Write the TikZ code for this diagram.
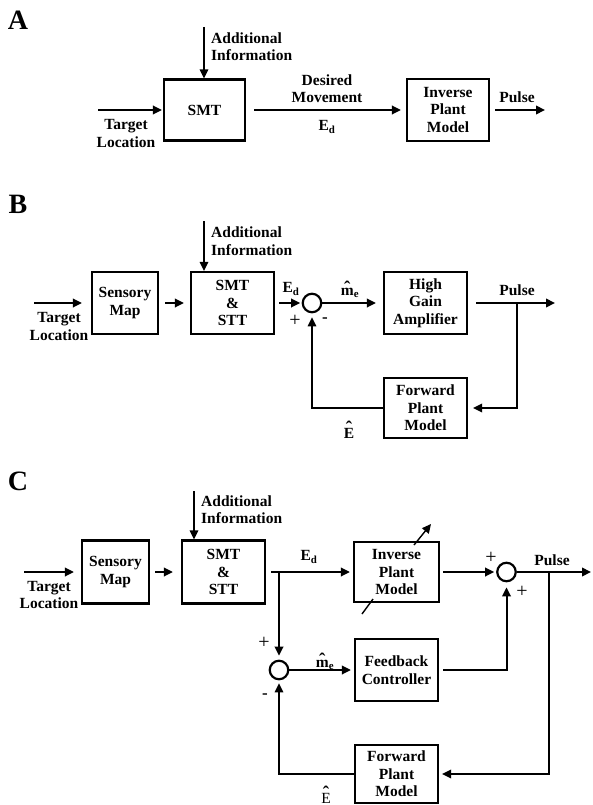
\documentclass[tikz,border=0pt]{standalone}
\usepackage{fontspec}
\setmainfont{Liberation Serif}
\usetikzlibrary{arrows.meta}
\newcommand{\txtfont}{\bfseries\fontsize{15.5}{17.5}\selectfont}
\newcommand{\hatchar}{\symbol{"02C6}}
\newcommand{\hatover}[1]{\vbox{\offinterlineskip\halign{\hfil##\hfil\cr{\bfseries\fontsize{19}{19}\selectfont\hatchar}\cr\noalign{\kern-6.5pt}#1\cr}}}
\tikzset{
  blk/.style={draw, line width=2.2pt, align=center, inner sep=0pt, font=\txtfont},
  lbl/.style={align=center, inner sep=0pt, font=\txtfont},
  panel/.style={inner sep=0pt, font=\bfseries\fontsize{28}{30}\selectfont},
  sumc/.style={circle, draw, line width=2.2pt, minimum size=18.5pt, inner sep=0pt},
  arr/.style={-{Triangle[length=9pt,width=8.5pt]}, line width=2pt},
  tarr/.style={-{Triangle[length=9pt,width=8.5pt]}, line width=1.4pt},
  plus/.style={inner sep=0pt, font=\fontsize{20}{20}\selectfont},
  minus/.style={inner sep=0pt, font=\bfseries\fontsize{17}{17}\selectfont},
  hatlbl/.style={inner sep=0pt, anchor=base, font=\txtfont}
}
\begin{document}
\begin{tikzpicture}[x=1pt,y=-1pt]
\useasboundingbox (0,0) rectangle (592,805);
% ---------------- Panel A ----------------
\node[panel] (pA) at (18,20) {A};
\node[blk, minimum width=81pt, minimum height=61pt] (smtA) at (204.5,110) {SMT};
\node[blk, minimum width=82pt, minimum height=62pt] (ipmA) at (448,110) {Inverse\\Plant\\Model};
\coordinate (addA) at (204,27);
\draw[tarr] (addA) -- (addA |- smtA.north);
\node[lbl, anchor=west, align=left] (addAt) at (211,46.5) {Additional\\Information};
\coordinate (tgtA) at (98,110);
\draw[arr, shorten >=1pt] (tgtA) -- (smtA.west);
\node[lbl] (tlA) at (126,133.5) {Target\\Location};
\draw[arr, shorten <=8pt, shorten >=5pt] (smtA.east) -- (ipmA.west);
\node[lbl] (dmA) at (327,88.5) {Desired\\Movement};
\node[lbl] (edA) at (327,127) {E\textsubscript{d}};
\coordinate (outA) at (545,110);
\draw[arr, shorten <=5pt] (ipmA.east) -- (outA);
\node[lbl] (puA) at (517,97) {Pulse};
% ---------------- Panel B ----------------
\node[panel] (pB) at (18,204) {B};
\node[blk, minimum width=66pt, minimum height=62pt] (smB) at (125,303) {Sensory\\Map};
\node[blk, minimum width=83pt, minimum height=62pt] (sstB) at (232.5,303) {SMT\\\&\\STT};
\node[sumc] (s1B) at (312,303) {};
\node[blk, minimum width=83pt, minimum height=62pt] (hgaB) at (425.5,303) {High\\Gain\\Amplifier};
\node[blk, minimum width=83pt, minimum height=60pt] (fpmB) at (425.5,408) {Forward\\Plant\\Model};
\coordinate (addB) at (204,221);
\draw[tarr] (addB) -- (addB |- sstB.north);
\node[lbl, anchor=west, align=left] (addBt) at (211,241) {Additional\\Information};
\coordinate (tgtB) at (34,303);
\draw[arr, shorten >=9pt] (tgtB) -- (smB.west);
\node[lbl] (tlB) at (59,326.5) {Target\\Location};
\draw[arr, shorten <=6pt, shorten >=6pt] (smB.east) -- (sstB.west);
\draw[arr, shorten <=4pt, shorten >=1.5pt] (sstB.east) -- (s1B.west);
\node[lbl] (edB) at (291,289) {E\textsubscript{d}};
\node[plus] (pl1B) at (295,321) {+};
\node[minus] (mi1B) at (325,320) {-};
\draw[arr, shorten >=7pt] (s1B.east) -- (hgaB.west);
\node[hatlbl] (meB) at (350,295) {\hatover{m}\textsubscript{e}};
\coordinate (outB) at (555,303);
\draw[arr, shorten <=8pt] (hgaB.east) -- (outB);
\node[lbl] (puB) at (517,290) {Pulse};
\coordinate (brB) at (517,303);
\draw[arr, line width=1.8pt, shorten >=5pt] (brB) |- (fpmB.east);
\draw[tarr, shorten >=4pt] (fpmB.west) -| (s1B.south);
\node[hatlbl] (EB) at (349,438) {\hatover{E}};
% ---------------- Panel C ----------------
\node[panel] (pC) at (18,481) {C};
\node[blk, minimum width=67pt, minimum height=63pt] (smC) at (115.5,572) {Sensory\\Map};
\node[blk, minimum width=83pt, minimum height=63pt] (sstC) at (223.5,572) {SMT\\\&\\STT};
\node[blk, minimum width=85pt, minimum height=60pt] (ipmC) at (396.5,572) {Inverse\\Plant\\Model};
\node[sumc] (s2C) at (506.5,572) {};
\node[blk, minimum width=83pt, minimum height=62pt] (fbcC) at (396.5,670) {Feedback\\Controller};
\node[sumc] (s3C) at (279,670) {};
\node[blk, minimum width=83pt, minimum height=58pt] (fpmC) at (396.5,774) {Forward\\Plant\\Model};
\coordinate (addC) at (194,491);
\draw[tarr] (addC) -- (addC |- sstC.north);
\node[lbl, anchor=west, align=left] (addCt) at (201,509.5) {Additional\\Information};
\coordinate (tgtC) at (24,572);
\draw[arr, shorten >=7pt] (tgtC) -- (smC.west);
\node[lbl] (tlC) at (49,595) {Target\\Location};
\draw[arr, shorten <=5pt, shorten >=8pt] (smC.east) -- (sstC.west);
\draw[arr, shorten <=5pt, shorten >=3pt] (sstC.east) -- (ipmC.west);
\node[lbl] (edC) at (309,557) {E\textsubscript{d}};
\coordinate (brC) at (279,572);
\draw[arr, shorten >=4pt] (brC) -- (s3C.north);
\node[plus] (pl3C) at (264,643) {+};
\node[minus] (mi3C) at (265,696) {-};
\draw[arr, shorten >=3pt] (s3C.east) -- (fbcC.west);
\node[hatlbl] (meC) at (325,667) {\hatover{m}\textsubscript{e}};
% adjustable indicator through inverse plant model
\coordinate (dg1) at (362,614);
\coordinate (dg2) at (373,599);
\coordinate (dg3) at (414,545);
\coordinate (dg4) at (431,524);
\draw[line width=1.4pt] (dg1) -- (dg2);
\draw[tarr] (dg3) -- (dg4);
\draw[arr, shorten <=3pt, shorten >=2pt] (ipmC.east) -- (s2C.west);
\node[plus] (pl2C) at (491,558) {+};
\node[plus] (pl2bC) at (522,592) {+};
\coordinate (outC) at (591,572);
\draw[arr] (s2C.east) -- (outC);
\node[lbl] (puC) at (552,560) {Pulse};
\draw[arr, shorten <=4pt, shorten >=5pt] (fbcC.east) -| (s2C.south);
\coordinate (brC2) at (549,572);
\draw[arr, line width=1.8pt, shorten >=3pt] (brC2) |- (fpmC.east);
\draw[tarr, shorten >=3pt] (fpmC.west) -| (s3C.south);
\node[hatlbl, font=\fontsize{15.5}{17}\selectfont] (EC) at (326,803) {\hatover{E}};
\end{tikzpicture}
\end{document}
